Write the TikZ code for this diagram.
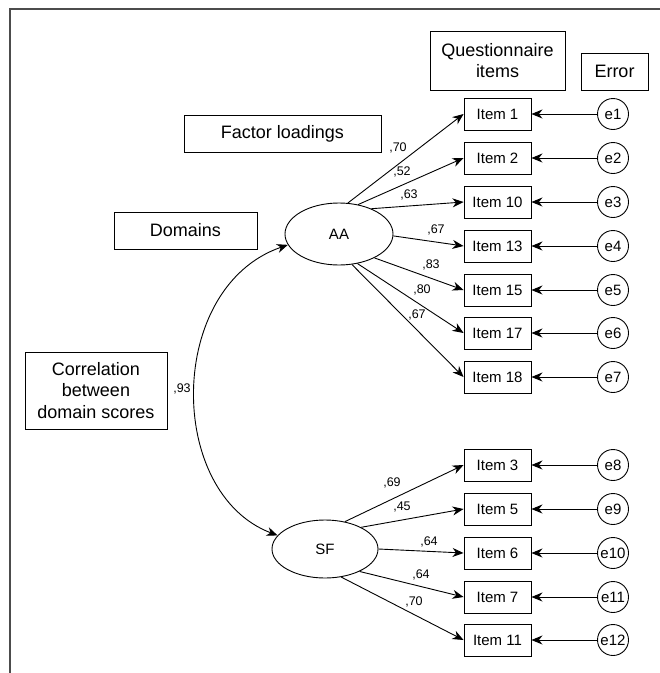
\documentclass[tikz,border=0pt]{standalone}
\usepackage{fontspec}
\setmainfont{Liberation Sans}
\usetikzlibrary{arrows.meta,shapes.geometric}
\tikzset{
  tip/.style={},
  arr/.style={line width=0.9pt,-{Stealth[length=11pt,width=9pt,inset=3.5pt]}},
  biarr/.style={line width=0.9pt,{Stealth[length=11pt,width=9pt,inset=3.5pt]}-{Stealth[length=11pt,width=9pt,inset=3.5pt]}},
  itembox/.style={draw,line width=0.9pt,minimum width=67pt,minimum height=32pt,inner sep=0pt,font=\fontsize{15}{18}\selectfont},
  errc/.style={draw,circle,line width=0.9pt,minimum size=31pt,inner sep=0pt,font=\fontsize{15}{17}\selectfont},
  lat/.style={draw,ellipse,line width=0.9pt,inner sep=0pt,font=\fontsize{15}{17}\selectfont},
  legend/.style={draw,line width=0.9pt,inner sep=0pt,align=center,font=\fontsize{18}{21.5}\selectfont},
  ld/.style={inner sep=0pt,font=\fontsize{12.5}{14}\selectfont},
  frameline/.style={line width=1.6pt,color=black!70}
}
\begin{document}
\begin{tikzpicture}[x=1pt,y=-1pt]
\useasboundingbox (0,0) rectangle (660,673);
% frame
\coordinate (fbl) at (10,673);
\coordinate (ftl) at (10,9);
\coordinate (ftr) at (660,9);
\draw[frameline] (fbl) -- (ftl) -- (ftr);

% legend boxes
\node[legend,minimum width=135pt,minimum height=59pt] (qi) at (497.5,60.5) {Questionnaire\\items};
\node[legend,minimum width=67pt,minimum height=37pt] (err) at (614.5,71.5) {Error};
\node[legend,minimum width=197pt,minimum height=37pt] (fl) at (282.5,133.5) {Factor loadings};
\node[legend,minimum width=143pt,minimum height=37pt] (dom) at (185.5,230.5) {Domains};
\node[legend,minimum width=142pt,minimum height=77pt] (cor) at (96,390.5) {Correlation\\between\\domain scores};

% latent variables
\node[lat,minimum width=108pt,minimum height=62pt] (AA) at (339,234) {AA};
\node[lat,minimum width=106pt,minimum height=58pt] (SF) at (325,549) {SF};

% items
\foreach \n/\lab/\y in {i1/Item 1/114, i2/Item 2/158, i10/Item 10/202, i13/Item 13/246, i15/Item 15/290, i17/Item 17/333, i18/Item 18/377,
                         i3/Item 3/465, i5/Item 5/509, i6/Item 6/553, i7/Item 7/597, i11/Item 11/640}{
  \node[itembox] (\n) at (497.5,\y) {\lab};
}
\foreach \n/\lab/\y in {e1/e1/114, e2/e2/158, e3/e3/202, e4/e4/246, e5/e5/290, e6/e6/333, e7/e7/377,
                         e8/e8/465, e9/e9/509, e10/e10/553, e11/e11/597, e12/e12/640}{
  \node[errc] (\n) at (613,\y) {\lab};
}
% error arrows
\foreach \e/\i in {e1/i1,e2/i2,e3/i10,e4/i13,e5/i15,e6/i17,e7/i18,e8/i3,e9/i5,e10/i6,e11/i7,e12/i11}{
  \draw[arr] (\e.west) -- (\i.east);
}
% loadings AA
\draw[arr] (AA.74) -- (i1.west);
\draw[arr] (AA.57) -- (i2.west);
\draw[arr] (AA.38) -- (i10.west);
\draw[arr] (AA.-2) -- (i13.west);
\draw[arr] (AA.-34) -- (i15.west);
\draw[arr] (AA.-58) -- (i17.west);
\draw[arr] (AA.-67) -- (i18.west);
% loadings SF
\draw[arr] (SF.54) -- (i3.west);
\draw[arr] (SF.31) -- (i5.west);
\draw[arr] (SF.0) -- (i6.west);
\draw[arr] (SF.-33) -- (i7.west);
\draw[arr] (SF.-60) -- (i11.west);

% loading labels
\node[ld] (l1) at (398,148) {,70};
\node[ld] (l2) at (402,172) {,52};
\node[ld] (l3) at (409,195) {,63};
\node[ld] (l4) at (436,230) {,67};
\node[ld] (l5) at (431,265) {,83};
\node[ld] (l6) at (422,290) {,80};
\node[ld] (l7) at (417,315) {,67};
\node[ld] (l8) at (392,483) {,69};
\node[ld] (l9) at (402,507) {,45};
\node[ld] (l10) at (429,542) {,64};
\node[ld] (l11) at (421,575) {,64};
\node[ld] (l12) at (414,602) {,70};

% correlation
\draw[biarr] (AA.192) .. controls (166,287) and (166,493) .. (SF.164);
\node[ld] (r) at (182,389) {,93};
\end{tikzpicture}
\end{document}
